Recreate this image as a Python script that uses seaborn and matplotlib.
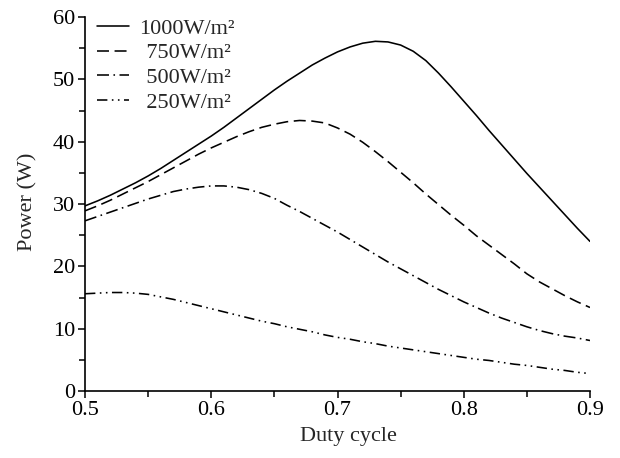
import numpy as np
import pandas as pd
import matplotlib
matplotlib.use("Agg")
import matplotlib.pyplot as plt
from matplotlib.ticker import MultipleLocator
import seaborn as sns

duty = [0.50, 0.51, 0.52, 0.53, 0.54, 0.55, 0.56, 0.57, 0.58, 0.59, 0.60,
        0.61, 0.62, 0.63, 0.64, 0.65, 0.66, 0.67, 0.68, 0.69, 0.70,
        0.71, 0.72, 0.73, 0.74, 0.75, 0.76, 0.77, 0.78, 0.79, 0.80,
        0.81, 0.82, 0.83, 0.84, 0.85, 0.86, 0.87, 0.88, 0.89, 0.90]
p1000 = [29.7, 30.5, 31.4, 32.4, 33.4, 34.5, 35.7, 37.0, 38.3, 39.6, 40.9,
         42.3, 43.8, 45.3, 46.8, 48.3, 49.7, 51.0, 52.3, 53.4, 54.4,
         55.2, 55.8, 56.1, 56.0, 55.5, 54.5, 53.0, 51.0, 48.8, 46.5,
         44.2, 41.8, 39.5, 37.2, 34.9, 32.7, 30.5, 28.3, 26.1, 24.0]
p750 = [28.9, 29.7, 30.6, 31.6, 32.6, 33.6, 34.7, 35.8, 36.9, 38.0, 39.0,
        39.9, 40.8, 41.6, 42.3, 42.8, 43.2, 43.4, 43.3, 43.0, 42.2,
        41.2, 39.9, 38.4, 36.8, 35.1, 33.4, 31.6, 29.9, 28.2, 26.6,
        24.9, 23.4, 21.9, 20.4, 18.8, 17.5, 16.4, 15.3, 14.3, 13.4]
p500 = [27.3, 28.0, 28.7, 29.4, 30.1, 30.8, 31.4, 32.0, 32.4, 32.7, 32.9,
        32.9, 32.7, 32.3, 31.7, 30.9, 29.8, 28.8, 27.7, 26.6, 25.5,
        24.3, 23.1, 21.9, 20.7, 19.6, 18.5, 17.4, 16.3, 15.3, 14.3,
        13.4, 12.5, 11.7, 11.0, 10.3, 9.7, 9.2, 8.8, 8.5, 8.1]
p250 = [15.6, 15.7, 15.8, 15.8, 15.7, 15.5, 15.1, 14.7, 14.2, 13.7, 13.2,
        12.7, 12.2, 11.7, 11.2, 10.8, 10.3, 9.9, 9.5, 9.0, 8.6,
        8.3, 7.9, 7.6, 7.2, 6.9, 6.6, 6.3, 6.0, 5.7, 5.4,
        5.1, 4.9, 4.6, 4.3, 4.1, 3.8, 3.5, 3.3, 3.0, 2.8]
labels = ["1000W/m²", "750W/m²", "500W/m²", "250W/m²"]
series = [p1000, p750, p500, p250]
x_ticks = [0.5, 0.6, 0.7, 0.8, 0.9]
x_ticklabels = ["0.5", "0.6", "0.7", "0.8", "0.9"]

sns.set_style("ticks")
plt.rcParams["font.family"] = ["Liberation Serif", "DejaVu Serif"]
plt.rcParams["font.size"] = 16

rows = []
for lab, vals in zip(labels, series):
    for d, v in zip(duty, vals):
        rows.append({"duty": d, "power": v, "series": lab})
df = pd.DataFrame(rows)

dash_styles = {
    labels[0]: "",
    labels[1]: (7.5, 3.5),
    labels[2]: (7.5, 2.8, 1, 2.8),
    labels[3]: (6.5, 2.8, 1, 2.8, 1, 2.8),
}

fig = plt.figure(figsize=(6.2, 4.58), dpi=100)
ax = fig.add_axes([85 / 620, 1 - 391 / 458, 505 / 620, 374 / 458])

sns.lineplot(data=df, x="duty", y="power", style="series", style_order=labels,
             dashes=dash_styles, color="black", linewidth=1.15, ax=ax,
             legend=False, sort=False)

ax.set_xlim(0.5, 0.9)
ax.set_ylim(0, 60)
ax.xaxis.set_minor_locator(MultipleLocator(0.05))
ax.yaxis.set_major_locator(MultipleLocator(10))
ax.yaxis.set_minor_locator(MultipleLocator(5))
ax.set_xticks(x_ticks)
ax.set_xticklabels(x_ticklabels)
ax.tick_params(which="both", direction="out", width=1.1, colors="black",
               labelsize=16)
ax.tick_params(which="major", length=5, pad=2)
ax.tick_params(which="minor", length=4)
for s in ["top", "right"]:
    ax.spines[s].set_visible(False)
for s in ["left", "bottom"]:
    ax.spines[s].set_linewidth(1.2)
    ax.spines[s].set_color("black")

ax.set_xlabel("Duty cycle", fontsize=16)
ax.set_ylabel("Power (W)", fontsize=16)
ax.xaxis.set_label_coords((348 - 85) / 505, -(427 - 391) / 374)
ax.yaxis.set_label_coords(-(85 - 37) / 505, 0.505)

handles = ax.get_lines()[:4]
leg_labels = [labels[0]] + ["\u2004" + l for l in labels[1:]]
leg = ax.legend(handles, leg_labels, loc="upper left", frameon=False,
                fontsize=16, handlelength=1.45, handletextpad=0.45,
                labelspacing=0.19, borderaxespad=0.0, borderpad=0.0,
                bbox_to_anchor=(12 / 505, 0.997))

fig.savefig("out.png", dpi=100)
